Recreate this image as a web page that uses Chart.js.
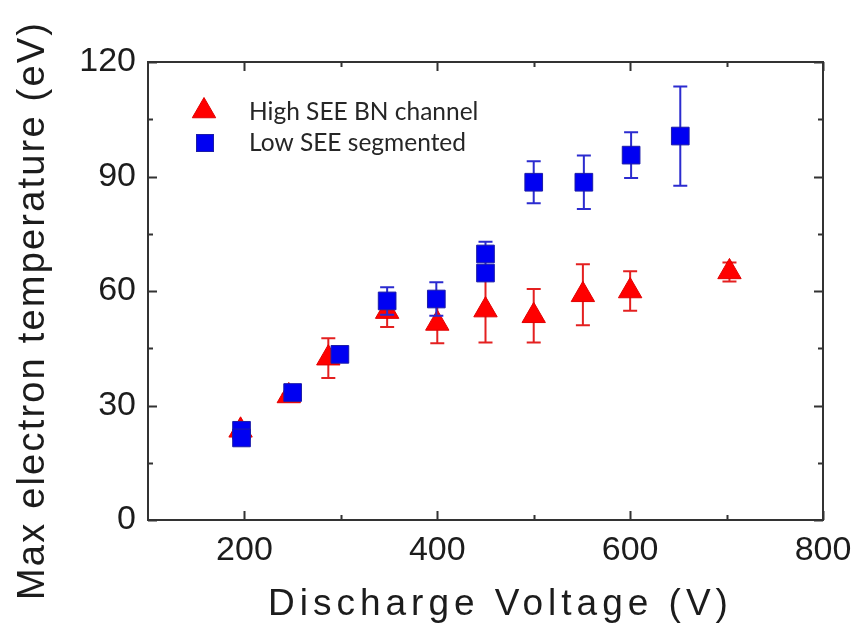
<!DOCTYPE html>
<html>
<head>
<meta charset="utf-8">
<script src="https://cdn.jsdelivr.net/npm/chart.js@4.4.1/dist/chart.umd.min.js"></script>
<style>
  html, body { margin: 0; padding: 0; background: #ffffff; }
  #wrap { width: 858px; height: 623px; position: relative; }
</style>
</head>
<body>
<div id="wrap"><canvas id="c" width="858" height="623"></canvas></div>
<script>
// Max electron temperature (eV) versus discharge voltage (V), each with a ± error
const highSeeVoltage = [196, 246, 287, 348, 400, 450, 500, 551, 600, 703];
const highSeeTemp    = [23.5, 32.5, 42.4, 54.6, 51.5, 55, 53.5, 59, 60, 65];
const highSeeErr     = [1, 0.5, 5.2, 4, 5.2, 8.5, 7, 8, 5.2, 2.5];

const lowSeeVoltage = [197, 197, 250, 299, 348, 399, 450, 450, 500, 552, 601, 652];
const lowSeeTemp    = [23.5, 21.5, 33.4, 43.4, 57.4, 57.9, 69.7, 64.7, 88.5, 88.5, 95.6, 100.6];
const lowSeeErr     = [0.5, 0.5, 0.5, 0.5, 3.6, 4.4, 3.2, 1, 5.5, 7, 6, 13];

const seriesNames = ['High SEE BN channel', 'Low SEE segmented'];
const xTickValues = [200, 400, 600, 800];
const xMinorTicks = [300, 500, 700];
const yTickValues = [0, 30, 60, 90, 120];
const yMinorTicks = [15, 45, 75, 105];
const xTitle = 'Discharge Voltage (V)';
const yTitle = 'Max electron temperature (eV)';

const RED = '#ff0000';
const BLUE = '#0000f2';
const AXIS_FONT = "'Liberation Sans', Arial, sans-serif";
const INK = '#1c1c1c';

function toPoints(xs, ys) {
  return xs.map((x, i) => ({ x: x, y: ys[i] }));
}

// vertical error bars with caps, drawn under each dataset's markers
const errorBars = {
  id: 'errorBars',
  beforeDatasetDraw(chart, args) {
    const ds = chart.data.datasets[args.index];
    if (!ds.errors) return;
    const ctx = chart.ctx;
    const ys = chart.scales.y;
    ctx.save();
    ctx.strokeStyle = ds.errorColor;
    ctx.lineWidth = 2;
    args.meta.data.forEach((pt, i) => {
      const v = ds.data[i].y;
      const e = ds.errors[i];
      const top = ys.getPixelForValue(v + e);
      const bot = ys.getPixelForValue(v - e);
      const x = pt.x;
      ctx.beginPath();
      ctx.moveTo(x, top); ctx.lineTo(x, bot);
      ctx.moveTo(x - 7, top); ctx.lineTo(x + 7, top);
      ctx.moveTo(x - 7, bot); ctx.lineTo(x + 7, bot);
      ctx.stroke();
    });
    ctx.restore();
  }
};

// boxed frame with inward major/minor ticks on all four sides, axis titles, legend
const frameDecor = {
  id: 'frameDecor',
  afterDatasetsDraw(chart) {
    const ctx = chart.ctx;
    const a = chart.chartArea;
    const xs = chart.scales.x, ys = chart.scales.y;
    ctx.save();
    ctx.strokeStyle = '#333333';
    ctx.lineWidth = 2;
    ctx.strokeRect(a.left, a.top, a.right - a.left, a.bottom - a.top);
    ctx.beginPath();
    const xt = (vals, len) => vals.forEach(v => {
      const px = Math.round(xs.getPixelForValue(v)) + 0.5;
      ctx.moveTo(px, a.bottom); ctx.lineTo(px, a.bottom - len);
      ctx.moveTo(px, a.top); ctx.lineTo(px, a.top + len);
    });
    const yt = (vals, len) => vals.forEach(v => {
      const py = Math.round(ys.getPixelForValue(v)) + 0.5;
      ctx.moveTo(a.left, py); ctx.lineTo(a.left + len, py);
      ctx.moveTo(a.right, py); ctx.lineTo(a.right - len, py);
    });
    xt(xTickValues, 9); xt(xMinorTicks, 5);
    yt(yTickValues, 9); yt(yMinorTicks, 5);
    ctx.stroke();
    ctx.restore();
  },
  afterDraw(chart) {
    const ctx = chart.ctx;
    // axis titles
    ctx.save();
    ctx.fillStyle = INK;
    ctx.font = '37px ' + AXIS_FONT;
    ctx.textAlign = 'left';
    ctx.textBaseline = 'alphabetic';
    ctx.letterSpacing = '5px';
    ctx.fillText(xTitle, 268, 615);
    ctx.font = '38px ' + AXIS_FONT;
    ctx.letterSpacing = '2.2px';
    ctx.translate(44, 600);
    ctx.rotate(-Math.PI / 2);
    ctx.fillText(yTitle, 0, 0);
    ctx.restore();

    // legend
    ctx.save();
    const tx = 204, ty = 111, r = 13.5;
    ctx.fillStyle = RED;
    ctx.strokeStyle = '#e00000';
    ctx.lineWidth = 1;
    ctx.beginPath();
    ctx.moveTo(tx, ty - r);
    ctx.lineTo(tx + r * Math.sin(2 * Math.PI / 3), ty - r * Math.cos(2 * Math.PI / 3));
    ctx.lineTo(tx + r * Math.sin(4 * Math.PI / 3), ty - r * Math.cos(4 * Math.PI / 3));
    ctx.closePath();
    ctx.fill(); ctx.stroke();
    const s = 8.5;
    ctx.fillStyle = BLUE;
    ctx.strokeStyle = '#1c1ca8';
    ctx.fillRect(205 - s, 143 - s, 2 * s, 2 * s);
    ctx.strokeRect(205 - s, 143 - s, 2 * s, 2 * s);
    ctx.fillStyle = '#262626';
    ctx.font = "24.5px Lato, 'Open Sans', sans-serif";
    ctx.textAlign = 'left';
    ctx.textBaseline = 'middle';
    ctx.fillText(seriesNames[0], 249, 112);
    ctx.fillText(seriesNames[1], 249, 143);
    ctx.restore();
  }
};

const tickFont = { family: AXIS_FONT, size: 34 };

new Chart(document.getElementById('c'), {
  type: 'scatter',
  data: {
    datasets: [
      {
        label: seriesNames[0],
        data: toPoints(highSeeVoltage, highSeeTemp),
        errors: highSeeErr,
        errorColor: '#e42020',
        pointStyle: 'triangle',
        pointRadius: 13.5,
        pointHoverRadius: 13.5,
        backgroundColor: RED,
        borderColor: '#e00000',
        borderWidth: 1,
        showLine: false,
        order: 2
      },
      {
        label: seriesNames[1],
        data: toPoints(lowSeeVoltage, lowSeeTemp),
        errors: lowSeeErr,
        errorColor: '#2b2bcf',
        pointStyle: 'rect',
        pointRadius: 12.5,
        pointHoverRadius: 12.5,
        backgroundColor: BLUE,
        borderColor: '#1c1ca8',
        borderWidth: 1,
        showLine: false,
        order: 1
      }
    ]
  },
  options: {
    responsive: false,
    animation: false,
    events: [],
    layout: { padding: { top: 62, right: 35, left: 0, bottom: 0 } },
    plugins: { legend: { display: false }, tooltip: { enabled: false } },
    scales: {
      x: {
        type: 'linear',
        position: 'bottom',
        min: 100,
        max: 800,
        grid: { display: false, drawTicks: false },
        border: { display: false },
        ticks: { padding: 10, font: tickFont, color: INK, maxRotation: 0, autoSkip: false },
        afterBuildTicks: s => { s.ticks = xTickValues.map(v => ({ value: v })); },
        afterFit: s => { s.height = 103; s.paddingLeft = 0; s.paddingRight = 0; }
      },
      y: {
        type: 'linear',
        position: 'left',
        min: 0,
        max: 120,
        grid: { display: false, drawTicks: false },
        border: { display: false },
        ticks: { padding: 12, font: tickFont, color: INK, autoSkip: false },
        afterBuildTicks: s => { s.ticks = yTickValues.map(v => ({ value: v })); },
        afterFit: s => { s.width = 148; s.paddingTop = 0; s.paddingBottom = 0; }
      }
    }
  },
  plugins: [errorBars, frameDecor]
});
</script>
</body>
</html>
